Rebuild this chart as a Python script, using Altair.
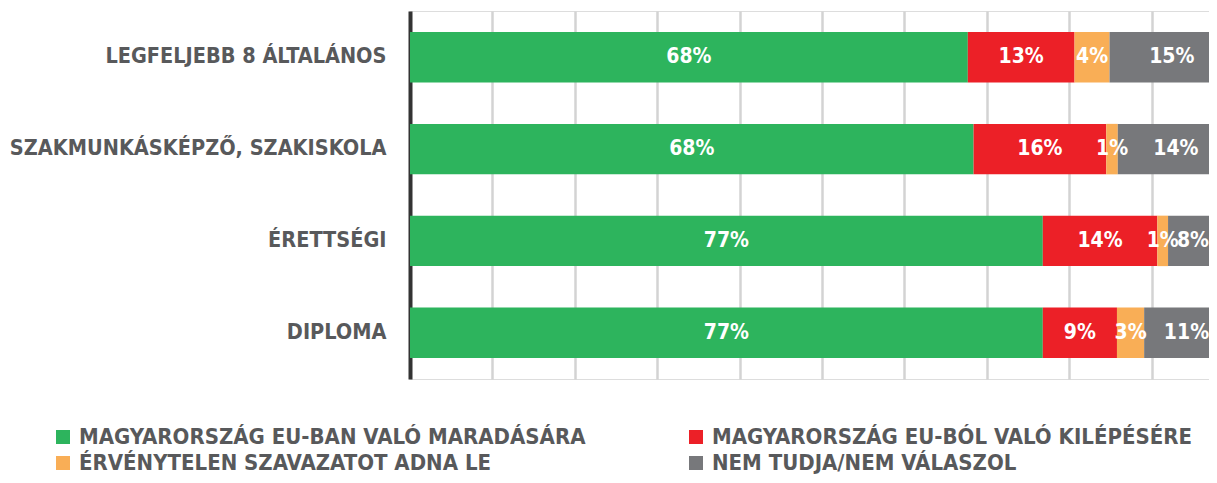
import altair as alt
import pandas as pd

categories = ["LEGFELJEBB 8 ÁLTALÁNOS", "SZAKMUNKÁSKÉPZŐ, SZAKISKOLA", "ÉRETTSÉGI", "DIPLOMA"]
series = ["MAGYARORSZÁG EU-BAN VALÓ MARADÁSÁRA", "MAGYARORSZÁG EU-BÓL VALÓ KILÉPÉSÉRE",
          "ÉRVÉNYTELEN SZAVAZATOT ADNA LE", "NEM TUDJA/NEM VÁLASZOL"]
colors = ["#2db45d", "#ec2027", "#f9ae56", "#77787b"]

stay = [67.7, 68.4, 76.8, 76.8]
leave = [12.95, 16.1, 13.9, 9.0]
invalid = [4.25, 1.4, 1.3, 3.3]
dunno = [15.1, 14.1, 8.0, 10.9]

rows = []
for i, c in enumerate(categories):
    for j, (s, vals) in enumerate(zip(series, [stay, leave, invalid, dunno])):
        rows.append({"cat": c, "series": s, "order": j, "value": vals[i]})
df = pd.DataFrame(rows)

FONT = "DejaVu Sans Condensed"
LABEL_COLOR = "#58595b"
XMAX = 96.97  # visible part of the 0-100 scale
PX_PER_PCT = 8.24

# keep labels of the last (cut) segment inside the visible area
half_w = f"((length(datum.lbl) - 1) * 13.1 + 18.9) / 2 / {PX_PER_PCT}"

base = alt.Chart(df).transform_stack(
    stack="value", as_=["x0", "x1"], groupby=["cat"], sort=[alt.SortField("order")]
).transform_calculate(
    lbl="format(datum.value, '.0f') + '%'",
).transform_calculate(
    mid=f"min((datum.x0 + datum.x1) / 2, {XMAX} - {half_w})",
)

yenc = alt.Y("cat:N", sort=categories, title=None,
             scale=alt.Scale(paddingInner=0.45, paddingOuter=0.23),
             axis=alt.Axis(labelFont=FONT, labelFontSize=21.5, labelFontWeight="bold",
                           labelColor=LABEL_COLOR, labelPadding=24, ticks=False,
                           domainColor="#333333", domainWidth=4, labelLimit=500))
xscale = alt.Scale(domain=[0, XMAX], nice=False, zero=True)

bars = base.mark_bar(clip=True).encode(
    y=yenc,
    x=alt.X("x0:Q", scale=xscale, title=None,
            axis=alt.Axis(values=[0, 10, 20, 30, 40, 50, 60, 70, 80, 90], labels=False,
                          ticks=False, domain=False, grid=True, gridColor="#d3d3d3",
                          gridWidth=2.5)),
    x2="x1:Q",
    color=alt.Color("series:N", sort=series,
                    scale=alt.Scale(domain=series, range=colors),
                    legend=alt.Legend(title=None, orient="none", legendX=-358, legendY=415,
                                      columns=2, direction="horizontal", padding=0,
                                      symbolType="square", symbolSize=196,
                                      symbolStrokeWidth=0, symbolOpacity=1,
                                      labelFont=FONT, labelFontSize=22, labelFontWeight="bold",
                                      labelColor=LABEL_COLOR, labelOffset=5,
                                      rowPadding=4, columnPadding=99, labelLimit=700)),
    order=alt.Order("order:Q"),
)

texts = base.mark_text(font=FONT, fontSize=21, fontWeight="bold", color="white",
                       align="center", baseline="middle").encode(
    y=alt.Y("cat:N", sort=categories),
    x=alt.X("mid:Q", scale=xscale),
    text="lbl:N",
)

chart = alt.layer(bars, texts).properties(
    width=799, height=368,
    autosize=alt.AutoSizeParams(type="none"),
    padding={"left": 402, "top": 3, "right": 0, "bottom": 96},
).configure_view(stroke=None).configure(background="white")

chart.save("out.html", embed_options={"renderer": "svg", "actions": False})
